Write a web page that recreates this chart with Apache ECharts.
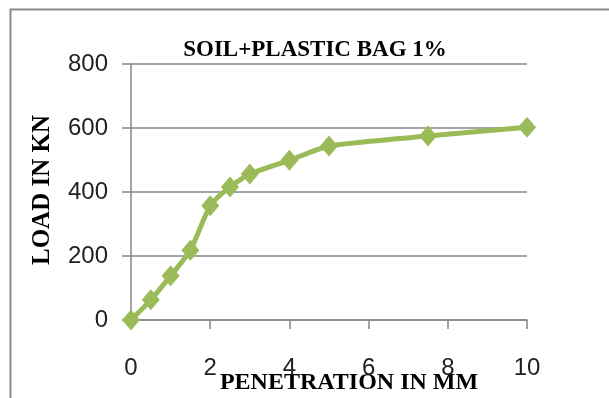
<!DOCTYPE html>
<html>
<head>
<meta charset="utf-8">
<script src="https://cdn.jsdelivr.net/npm/echarts@6/dist/echarts.min.js"></script>
<style>
  html, body { margin: 0; padding: 0; background: #fff; }
  #chart { width: 609px; height: 398px; }
</style>
</head>
<body>
<div id="chart"></div>
<script>
// CBR test: soil + 1% plastic bag
const chartTitle = 'SOIL+PLASTIC BAG 1%';
const xAxisName = 'PENETRATION IN MM';
const yAxisName = 'LOAD IN KN';
const penetration = [0, 0.5, 1, 1.5, 2, 2.5, 3, 4, 5, 7.5, 10];
const load = [0, 63, 138, 218, 357, 416, 456, 499, 544, 575, 602];
const xTicks = [0, 2, 4, 6, 8, 10];
const yTicks = [0, 200, 400, 600, 800];

const numFont = '"Liberation Sans Narrow", "Liberation Sans", sans-serif';
const serifFont = '"Liberation Serif", "DejaVu Serif", serif';
const gridColor = '#878787';

const chart = echarts.init(document.getElementById('chart'), null, { renderer: 'canvas' });

chart.setOption({
  animation: false,
  backgroundColor: '#ffffff',
  graphic: [
    // outer chart frame
    { type: 'rect', left: 8, top: 7, z: -1,
      shape: { width: 640, height: 420 },
      style: { fill: 'none', stroke: '#8a8a8a', lineWidth: 2 } }
  ],
  title: {
    text: chartTitle,
    left: 310, top: 34, textAlign: 'center',
    textStyle: { fontFamily: serifFont, fontWeight: 'bold', fontSize: 23, color: '#000' }
  },
  grid: { left: 131, right: 82, top: 64, bottom: 78, containLabel: false, outerBoundsMode: 'none' },
  xAxis: {
    type: 'value',
    min: xTicks[0], max: xTicks[xTicks.length - 1], interval: 2,
    name: xAxisName,
    nameLocation: 'middle', nameGap: 51, nameMoveOverlap: false,
    nameTextStyle: { fontFamily: serifFont, fontWeight: 'bold', fontSize: 24, color: '#000', padding: [0, 0, 0, 40] },
    axisLine: { show: true, lineStyle: { color: gridColor, width: 1.5 } },
    axisTick: { show: true, length: 9, lineStyle: { color: gridColor, width: 1.5 } },
    axisLabel: { margin: 36, fontFamily: numFont, fontSize: 24, color: '#222' },
    splitLine: { show: false }
  },
  yAxis: {
    type: 'value',
    min: yTicks[0], max: yTicks[yTicks.length - 1], interval: 200,
    name: yAxisName,
    nameLocation: 'middle', nameGap: 76, nameRotate: 90, nameMoveOverlap: false,
    nameTextStyle: { fontFamily: serifFont, fontWeight: 'bold', fontSize: 25, color: '#000', padding: [0, 0, 0, 4] },
    axisLine: { show: true, lineStyle: { color: gridColor, width: 1.5 } },
    axisTick: { show: true, length: 9, lineStyle: { color: gridColor, width: 1.5 } },
    axisLabel: { margin: 23, fontFamily: numFont, fontSize: 24, color: '#222' },
    splitLine: { show: true, lineStyle: { color: gridColor, width: 1.5 } }
  },
  series: [{
    type: 'line',
    data: penetration.map((p, i) => [p, load[i]]),
    smooth: 0.2,
    symbol: 'diamond',
    symbolSize: [18, 21],
    lineStyle: { color: '#9bbb59', width: 5 },
    itemStyle: { color: '#9bbb59' }
  }]
});
</script>
</body>
</html>
